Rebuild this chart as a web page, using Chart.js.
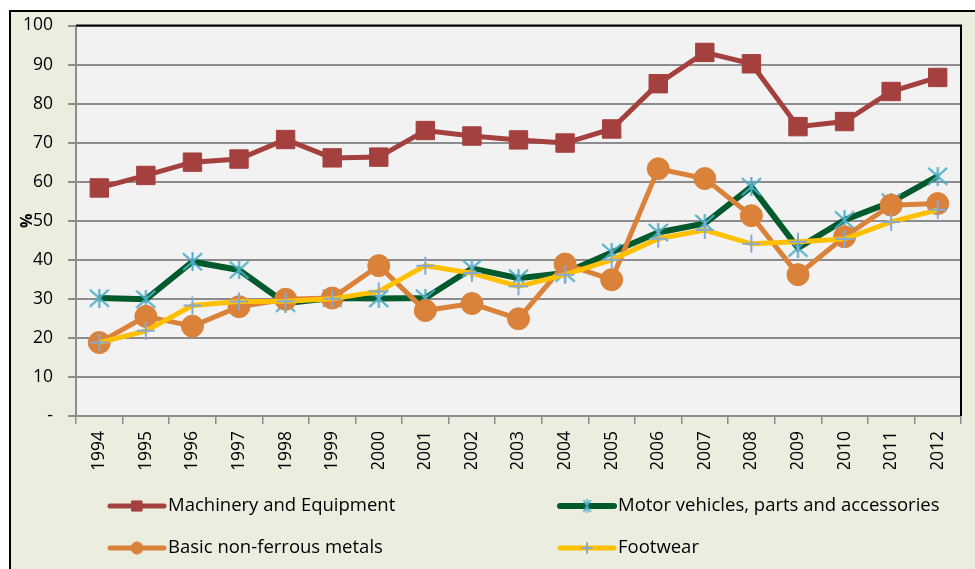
<!DOCTYPE html>
<html>
<head>
<meta charset="utf-8">
<script src="https://cdn.jsdelivr.net/npm/chart.js@4.4.1/dist/chart.umd.min.js"></script>
<style>
  html, body { margin: 0; padding: 0; background: #fff; }
  #wrap { width: 975px; height: 569px; position: relative; }
</style>
</head>
<body>
<div id="wrap"><canvas id="chart1" width="975" height="569"></canvas></div>
<script>
const years = ["1994", "1995", "1996", "1997", "1998", "1999", "2000", "2001", "2002", "2003",
    "2004", "2005", "2006", "2007", "2008", "2009", "2010", "2011", "2012"]

const machinery = [58.4, 61.6, 65.0, 65.8, 70.8, 66.1, 66.3, 73.1, 71.7, 70.7,
    69.9, 73.5, 85.1, 93.1, 90.2, 74.1, 75.4, 83.1, 86.7]
const motorVehicles = [30.2, 29.9, 39.5, 37.4, 28.9, 30.2, 30.1, 30.2, 37.8, 35.3,
    36.6, 41.9, 47.0, 49.3, 58.7, 43.0, 50.2, 54.8, 61.4]
const nonFerrous = [18.8, 25.5, 23.0, 28.0, 29.9, 30.2, 38.5, 27.0, 28.8, 24.9,
    38.9, 34.9, 63.3, 60.8, 51.3, 36.2, 45.9, 54.0, 54.4]
const footwear = [18.8, 21.8, 28.3, 29.3, 29.4, 30.0, 31.9, 38.5, 36.6, 33.2,
    36.2, 40.0, 45.4, 47.6, 44.1, 44.6, 45.3, 49.7, 52.8]

const seriesNames = ["Machinery and Equipment", "Motor vehicles, parts and accessories",
    "Basic non-ferrous metals", "Footwear"]

const FONT = "'Open Sans', 'DejaVu Sans', sans-serif"

// excel style asterisk: X with a vertical bar
function asterisk(w, h, color, lw) {
    const c = document.createElement("canvas")
    c.width = w
    c.height = h
    const g = c.getContext("2d")
    g.strokeStyle = color
    g.lineWidth = lw
    g.beginPath()
    g.moveTo(1, 1); g.lineTo(w - 1, h - 1)
    g.moveTo(w - 1, 1); g.lineTo(1, h - 1)
    g.moveTo(w / 2, 0); g.lineTo(w / 2, h)
    g.stroke()
    return c
}
const starBig = asterisk(21, 19, "#4BACC6", 2)
const starSmall = asterisk(9, 14, "#4BACC6", 1.5)

// beige frame + plot background
const framePlugin = {
    id: "frame",
    beforeDraw(chart) {
        const ctx = chart.ctx
        const a = chart.chartArea
        ctx.save()
        ctx.fillStyle = "#fff"
        ctx.fillRect(0, 0, chart.width, chart.height)
        ctx.fillStyle = "#EBEEDE"
        ctx.fillRect(9, 10, chart.width - 9, chart.height - 10)
        ctx.strokeStyle = "#000"
        ctx.lineWidth = 2
        ctx.beginPath()
        ctx.moveTo(10, chart.height)
        ctx.lineTo(10, 11)
        ctx.lineTo(chart.width, 11)
        ctx.stroke()
        ctx.fillStyle = "#F2F2F2"
        ctx.fillRect(a.left, a.top, a.right - a.left, a.bottom - a.top)
        ctx.restore()
    },
    beforeDatasetsDraw(chart) {
        const ctx = chart.ctx
        const a = chart.chartArea
        ctx.save()
        ctx.strokeStyle = "#000"
        ctx.lineWidth = 2
        ctx.beginPath()
        ctx.moveTo(a.left, a.top)
        ctx.lineTo(a.right, a.top)
        ctx.lineTo(a.right, a.bottom)
        ctx.stroke()
        ctx.restore()
    }
}

// two-column legend below the axis
const legendPlugin = {
    id: "legend2col",
    afterDraw(chart) {
        const ctx = chart.ctx
        const cols = [110, 560]
        const rows = [506, 548]
        chart.data.datasets.forEach((ds, i) => {
            const x = cols[i % 2], y = rows[Math.floor(i / 2)]
            ctx.save()
            ctx.strokeStyle = ds.borderColor
            ctx.lineWidth = ds.borderWidth
            ctx.lineCap = "round"
            ctx.beginPath()
            ctx.moveTo(x, y)
            ctx.lineTo(x + 54, y)
            ctx.stroke()
            ctx.fillStyle = ds.pointBackgroundColor
            ctx.strokeStyle = ds.pointBorderColor
            ctx.lineWidth = ds.pointBorderWidth
            Chart.helpers.drawPoint(ctx, {
                pointStyle: ds.pointStyle === starBig ? starSmall : ds.pointStyle,
                radius: ds.pointRadius * 0.55,
                borderWidth: ds.pointBorderWidth,
                rotation: 0
            }, x + 27, y)
            ctx.fillStyle = "#000"
            ctx.font = "18.5px " + FONT
            ctx.textBaseline = "middle"
            ctx.fillText(seriesNames[i], x + 58, y)
            ctx.restore()
        })
    }
}

const chartData = {
    type: "line",
    data: {
        labels: years,
        datasets: [
            {
                label: seriesNames[0], data: machinery, order: 4,
                borderColor: "#A4403E", backgroundColor: "#A4403E", borderWidth: 5,
                pointStyle: "rect", pointRadius: 13, pointBorderWidth: 1,
                pointBackgroundColor: "#A4403E", pointBorderColor: "#A4403E"
            },
            {
                label: seriesNames[1], data: motorVehicles, order: 3,
                borderColor: "#005A2B", backgroundColor: "#4BACC6", borderWidth: 6,
                pointStyle: starBig, pointRadius: 11, pointBorderWidth: 1.5,
                pointBackgroundColor: "#4BACC6", pointBorderColor: "#4BACC6"
            },
            {
                label: seriesNames[2], data: nonFerrous, order: 2,
                borderColor: "#DA823A", backgroundColor: "#DA823A", borderWidth: 5,
                pointStyle: "circle", pointRadius: 11, pointBorderWidth: 1,
                pointBackgroundColor: "#DA823A", pointBorderColor: "#DA823A"
            },
            {
                label: seriesNames[3], data: footwear, order: 1,
                borderColor: "#FFC000", backgroundColor: "#FFC000", borderWidth: 5,
                pointStyle: "cross", pointRadius: 9, pointBorderWidth: 2,
                pointBackgroundColor: "#7FA7D3", pointBorderColor: "#86A9D2"
            }
        ]
    },
    options: {
        responsive: false,
        animation: { duration: 0 },
        layout: { padding: { left: 18, top: 22, right: 4, bottom: 100 } },
        plugins: {
            legend: { display: false },
            tooltip: { enabled: false }
        },
        scales: {
            x: {
                offset: true,
                afterFit(scale) { scale.height = 53 },
                grid: {
                    offset: true, drawOnChartArea: false, drawTicks: true,
                    tickLength: 8, color: "#8C8C8C", lineWidth: 1.5
                },
                border: { display: true, color: "#8C8C8C", width: 2 },
                ticks: {
                    minRotation: 90, maxRotation: 90, padding: 7,
                    color: "#000", font: { family: FONT, size: 17.5 }
                }
            },
            y: {
                min: 0, max: 100,
                afterFit(scale) { scale.width = 58 },
                grid: { color: "#8C8C8C", lineWidth: 2, tickLength: 8 },
                border: { display: true, color: "#8C8C8C", width: 2 },
                title: {
                    display: true, text: "%", color: "#000", padding: 0,
                    font: { family: FONT, size: 16, weight: "bold" }
                },
                ticks: {
                    stepSize: 10, padding: 15, color: "#000",
                    font: { family: FONT, size: 17.5 },
                    callback: (v) => v === 0 ? "-" : v
                }
            }
        }
    },
    plugins: [framePlugin, legendPlugin]
}

const chart = new Chart(document.getElementById("chart1").getContext("2d"), chartData)
</script>
</body>
</html>
